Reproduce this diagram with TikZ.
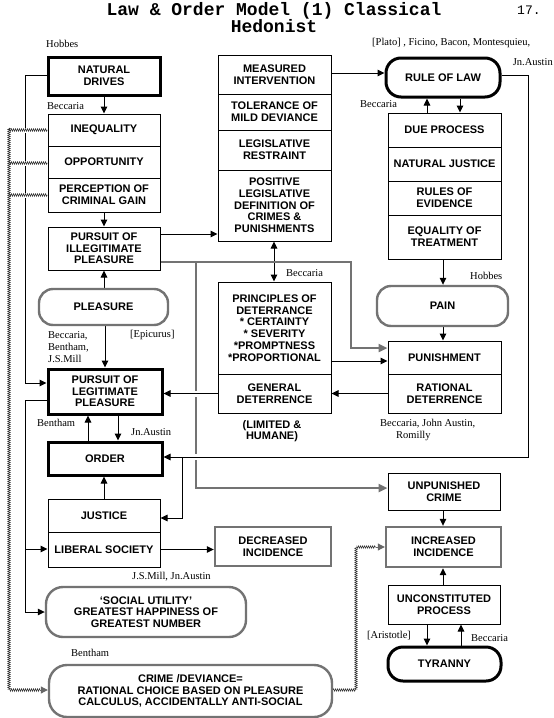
\documentclass[tikz,border=0pt]{standalone}
\usepackage{fontspec}
\setmainfont{Liberation Serif}
\newfontfamily\boxfont{Liberation Sans}
\newfontfamily\titlefont{Liberation Mono}
\usetikzlibrary{arrows.meta,decorations.pathmorphing,backgrounds}
\begin{document}
\begin{tikzpicture}[x=1pt,y=-1pt,
  every node/.style={inner sep=0pt},
  bx/.style 2 args={draw, line width=1pt, align=center,
     font=\boxfont\bfseries\fontsize{11}{11.7}\selectfont,
     minimum width=#1pt, minimum height=#2pt},
  tk/.style={line width=3pt},
  gr/.style={draw=black!55, line width=2.4pt},
  pill/.style={rounded corners=#1pt},
  lab/.style={font=\fontsize{10.5}{12}\selectfont, anchor=west, align=left},
  bold/.style={font=\boxfont\bfseries\fontsize{11}{11.7}\selectfont, align=center},
  arr/.style={line width=1pt, -{Triangle[length=7pt,width=6.5pt]}},
  darr/.style={line width=1pt, {Triangle[length=7pt,width=6.5pt]}-{Triangle[length=7pt,width=6.5pt]}},
  garr/.style={draw=black!55, line width=2.8pt, -{Triangle[length=9pt,width=8pt]}},
  hatch/.style={decorate, decoration={zigzag, segment length=2pt, amplitude=1.3pt}, line width=0.5pt, draw=black!80},
  harr/.style={line width=1pt, draw=black!60, -{Triangle[length=7pt,width=7pt]}},
  halo/.style={draw=white, line width=6pt}
]
\useasboundingbox (0,0) rectangle (554,718);

% title
\node[anchor=base, font=\titlefont\bfseries\fontsize{18}{18}\selectfont] (t1) at (274,15.5) {Law \& Order Model (1) Classical};
\node[anchor=base, font=\titlefont\bfseries\fontsize{18}{18}\selectfont] (t2) at (274,32) {Hedonist};
\node[anchor=base west, font=\titlefont\fontsize{13}{13}\selectfont] (pg) at (517,14) {17.};

% left column
\node[bx={112}{38}, tk] (nd) at (104,76) {NATURAL\\DRIVES};
\node[bx={112}{32}] (ineq) at (104,130) {INEQUALITY};
\node[bx={112}{32}] (opp) at (104,162) {OPPORTUNITY};
\node[bx={112}{34}] (perc) at (104,195) {PERCEPTION OF\\CRIMINAL GAIN};
\node[bx={112}{43}] (pip) at (104,248.5) {PURSUIT OF\\ILLEGITIMATE\\PLEASURE};
\node[bx={129}{36}, gr, pill=14] (pleas) at (103.5,307) {PLEASURE};
\node[bx={114}{45}, tk] (plp) at (105,391.5) {PURSUIT OF\\LEGITIMATE\\PLEASURE};
\node[bx={114}{33}, tk] (order) at (105,458.5) {ORDER};
\node[bx={112}{33}] (just) at (104,515.5) {JUSTICE};
\node[bx={112}{35}] (lib) at (104,549.5) {LIBERAL SOCIETY};
\node[bx={200}{50}, gr, pill=17] (su) at (146,612) {‘SOCIAL UTILITY’\\GREATEST HAPPINESS OF\\GREATEST NUMBER};
\node[bx={283}{52}, gr, pill=18] (crime) at (190.5,691) {CRIME /DEVIANCE=\\RATIONAL CHOICE BASED ON PLEASURE\\CALCULUS, ACCIDENTALLY ANTI-SOCIAL};

% middle column
\node[bx={113}{39}] (mi) at (274.5,74.5) {MEASURED\\INTERVENTION};
\node[bx={113}{36}] (tol) at (274.5,112) {TOLERANCE OF\\MILD DEVIANCE};
\node[bx={113}{40}] (lr) at (274.5,150) {LEGISLATIVE\\RESTRAINT};
\node[bx={113}{71}] (pos) at (274.5,205.5) {POSITIVE\\LEGISLATIVE\\DEFINITION OF\\CRIMES \&\\PUNISHMENTS};
\node[bx={113}{92}] (pod) at (274.5,328) {PRINCIPLES OF\\DETERRANCE\\* CERTAINTY\\* SEVERITY\\*PROMPTNESS\\*PROPORTIONAL};
\node[bx={113}{39}] (gd) at (274.5,393.5) {GENERAL\\DETERRENCE};
\node[bold] (lh) at (272,431) {(LIMITED \&\\HUMANE)};
\node[bx={116}{39}, gr] (dec) at (273,546.5) {DECREASED\\INCIDENCE};

% right column
\node[bx={114}{39}, tk, pill=15] (rol) at (443,77.5) {RULE OF LAW};
\node[bx={113}{34}] (dp) at (444.5,130) {DUE PROCESS};
\node[bx={113}{34}] (nj) at (444.5,164) {NATURAL JUSTICE};
\node[bx={113}{34}] (roe) at (444.5,198) {RULES OF\\EVIDENCE};
\node[bx={113}{44}] (eot) at (444.5,237) {EQUALITY OF\\TREATMENT};
\node[bx={131}{40}, gr, pill=14] (pain) at (442.5,306) {PAIN};
\node[bx={113}{33}] (pun) at (444.5,357.5) {PUNISHMENT};
\node[bx={113}{39}] (rd) at (444.5,393.5) {RATIONAL\\DETERRENCE};
\node[bx={112}{37}] (uc) at (444,491.5) {UNPUNISHED\\CRIME};
\node[bx={115}{40}, gr] (inc) at (443.5,547) {INCREASED\\INCIDENCE};
\node[bx={112}{39}] (ucp) at (444,604.5) {UNCONSTITUTED\\PROCESS};
\node[bx={113}{34}, tk, pill=15] (tyr) at (444.5,664) {TYRANNY};

% labels
\node[lab] (l1) at (46,44) {Hobbes};
\node[lab] (l2) at (47,106) {Beccaria};
\node[lab] (l3) at (372,43) {[Plato] , Ficino, Bacon, Montesquieu,};
\node[lab, anchor=east] (l4) at (553,62) {Jn.Austin};
\node[lab] (l5) at (360,104) {Beccaria};
\node[lab] (l6) at (286,273) {Beccaria};
\node[lab] (l7) at (470,276) {Hobbes};
\node[lab] (l8) at (48,347) {Beccaria,\\Bentham,\\J.S.Mill};
\node[lab] (l9) at (130,335) {[Epicurus]};
\node[lab] (l10) at (37,423) {Bentham};
\node[lab] (l11) at (131,432) {Jn.Austin};
\node[lab] (l12) at (380,424) {Beccaria, John Austin,};
\node[lab] (l13) at (396,436) {Romilly};
\node[lab] (l14) at (132,577) {J.S.Mill, Jn.Austin};
\node[lab] (l15) at (71,653) {Bentham};
\node[lab] (l16) at (367,636) {[Aristotle]};
\node[lab] (l17) at (471,638) {Beccaria};

% connectors
\begin{pgfonlayer}{background}
\fill[white] (0,0) rectangle (554,718);
\draw[arr] (nd) -- (ineq);
\draw[arr] (perc) -- (pip);
\draw[arr] (pip.east |- 0,234) -- (pos.west |- 0,234);
\draw[arr] (mi.east |- 0,73) -- (rol.west |- 0,73);
\draw[arr] (dp.north -| 427,0) -- (rol.south -| 427,0);
\draw[arr] (rol.south -| 460,0) -- (dp.north -| 460,0);
\draw[arr] (eot.south -| 443,0) -- (pain.north -| 443,0);
\draw[arr] (pain.south -| 443,0) -- (pun.north -| 443,0);
\draw[darr] (pos.south -| 274,0) -- (pod.north -| 274,0);
\draw[arr] (pod.east |- 0,361) -- (pun.west |- 0,361);
\draw[arr] (rd.west) -- (gd.east);
\draw[arr] (pleas.north -| pip.south) -- (pip.south);
\draw[arr] (pleas.south -| plp.north) -- (plp.north);
\draw[arr] (order.north -| 88,0) -- (plp.south -| 88,0);
\draw[arr] (plp.south -| 118,0) -- (order.north -| 118,0);
\draw[arr] (just.north) -- (just.north |- order.south);
\draw[arr] (lib.east) -- (dec.west |- lib.east);
\draw[arr] (uc.south -| 443,0) -- (inc.north -| 443,0);
\draw[arr] (ucp.north -| 443,0) -- (inc.south -| 443,0);
\draw[arr] (ucp.south -| 427,0) -- (tyr.north -| 427,0);
\draw[arr] (tyr.north -| 461,0) -- (ucp.south -| 461,0);
\draw[arr] (nd.west |- 0,75) -- (25,75) -- (25,383) -- (plp.west |- 0,383);
\draw[arr] (plp.west |- 0,400) -- (25,400) -- (25,612) -- (su.west);
\draw[arr] (25,549) -- (lib.west |- 0,549);
% gray connectors
\draw[garr] (pip.east |- 0,262) -- (351,262) -- (351,348) -- (pun.west |- 0,348);
\draw[garr] (196,262) -- (196,488) -- (uc.west |- 0,488);
% black lines crossing the gray ones
\draw[arr, preaction={halo, -}] (gd.west) -- (gd.west -| plp.east);
\draw[arr, preaction={halo, -}] (rol.east |- 0,75) -- (528,75) -- (528,457) -- (order.east |- 0,457);
\draw[arr] (182,457) -- (182,518) -- (just.east |- 0,518);
% hatched connectors
\draw[white, line width=5pt] (9,130) -- (ineq.west);
\draw[white, line width=5pt] (9,163) -- (opp.west |- 0,163);
\draw[white, line width=5pt] (9,195) -- (perc.west);
\draw[hatch] (9,130) -- (ineq.west);
\draw[hatch] (9,163) -- (opp.west |- 0,163);
\draw[hatch] (9,195) -- (perc.west);
\draw[hatch] (9,128) -- (9,690) -- (40,690);
\draw[harr] (40,690) -- (crime.west |- 0,690);
\draw[hatch] (crime.east |- 0,690) -- (356,690) -- (356,547) -- (376,547);
\draw[harr] (376,547) -- (inc.west |- 0,547);
\end{pgfonlayer}
\end{tikzpicture}
\end{document}
